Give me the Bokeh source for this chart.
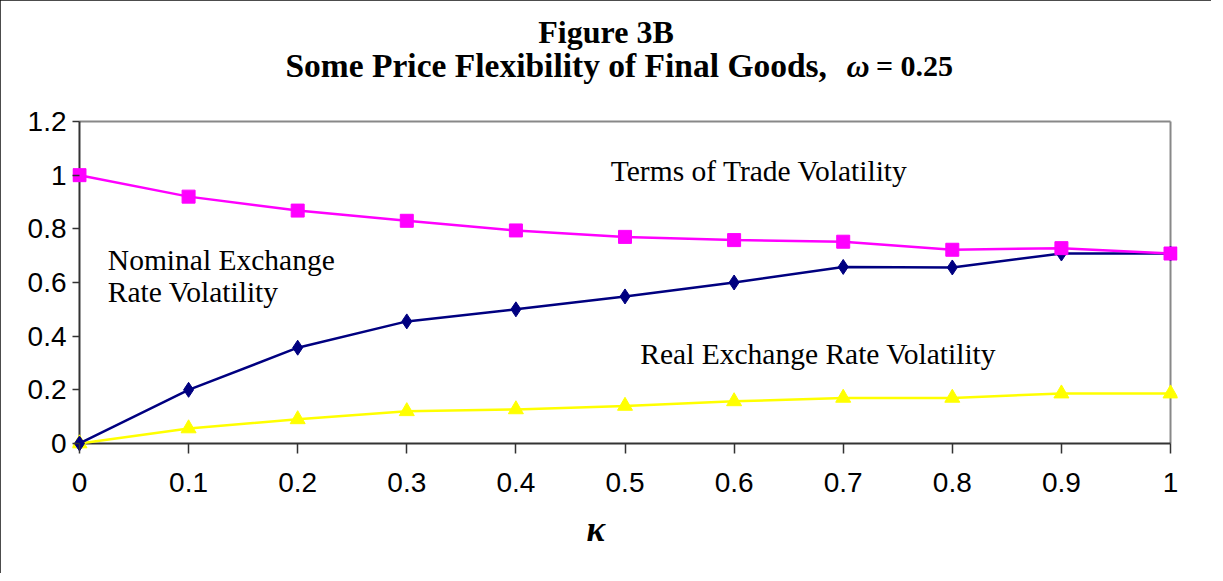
from bokeh.plotting import figure
from bokeh.models import Range1d, LinearAxis, Label, FixedTicker, Title
from bokeh.embed import file_html
from bokeh.resources import INLINE

kappa = [0.0, 0.1, 0.2, 0.3, 0.4, 0.5, 0.6, 0.7, 0.8, 0.9, 1.0]
terms_of_trade = [1.0, 0.92, 0.868, 0.83, 0.794, 0.77, 0.758, 0.752, 0.722, 0.728, 0.708]
nominal_exchange = [0.0, 0.20, 0.357, 0.455, 0.50, 0.548, 0.60, 0.658, 0.656, 0.708, 0.708]
real_exchange = [0.0, 0.056, 0.09, 0.12, 0.127, 0.14, 0.157, 0.17, 0.17, 0.186, 0.186]
x_ticks = [0, 0.1, 0.2, 0.3, 0.4, 0.5, 0.6, 0.7, 0.8, 0.9, 1]
y_ticks = [0, 0.2, 0.4, 0.6, 0.8, 1.0, 1.2]
x_tick_labels = {0: "0", 0.1: "0.1", 0.2: "0.2", 0.3: "0.3", 0.4: "0.4", 0.5: "0.5",
                 0.6: "0.6", 0.7: "0.7", 0.8: "0.8", 0.9: "0.9", 1: "1"}
y_tick_labels = {0: "0", 0.2: "0.2", 0.4: "0.4", 0.6: "0.6", 0.8: "0.8", 1.0: "1", 1.2: "1.2"}

SANS = "Liberation Sans"
SERIF = "Liberation Serif"
PX, PY, PTOP = 0.0064, 0.0373, 0.4435

p = figure(width=1211, height=573, output_backend="svg", toolbar_location=None,
           x_range=Range1d(x_ticks[0] - PX, x_ticks[-1] + PX),
           y_range=Range1d(y_ticks[0] - PY, y_ticks[-1] + PTOP),
           x_axis_type=None, y_axis_type=None,
           min_border_left=72, min_border_right=34, min_border_top=2, min_border_bottom=120)
p.outline_line_color = None
p.grid.visible = False
p.background_fill_color = "white"
p.border_fill_color = "white"
p.styles = {"outline": "2px solid #111111", "outline-offset": "-2px"}

# tick label axes on the frame edge, ticks pointing in to the data origin
xl = LinearAxis(ticker=FixedTicker(ticks=x_ticks))
xl.major_label_overrides = x_tick_labels
xl.axis_line_color = None
xl.major_tick_line_color = "#333333"
xl.major_tick_line_width = 1.5
xl.major_tick_in = 10
xl.major_tick_out = 0
xl.minor_tick_line_color = None
xl.major_label_text_font = SANS
xl.major_label_text_font_size = "28px"
xl.major_label_text_color = "black"
xl.major_label_standoff = 19
p.add_layout(xl, "below")

yl = LinearAxis(ticker=FixedTicker(ticks=y_ticks))
yl.major_label_overrides = y_tick_labels
yl.axis_line_color = None
yl.major_tick_line_color = "#333333"
yl.major_tick_line_width = 1.5
yl.major_tick_in = 7
yl.major_tick_out = 0
yl.minor_tick_line_color = None
yl.major_label_text_font = SANS
yl.major_label_text_font_size = "28px"
yl.major_label_text_color = "black"
yl.major_label_standoff = 6
p.add_layout(yl, "left")

# kappa axis title
p.add_layout(Title(text="\u03ba", text_font=SERIF, text_font_size="35px", text_font_style="bold italic",
                   text_color="black", align="left", offset=514, standoff=27), "below")

# frame lines: gray top/right, dark left/bottom axes
p.segment(x0=[x_ticks[0], x_ticks[-1]], y0=[y_ticks[-1], y_ticks[0]],
          x1=[x_ticks[-1], x_ticks[-1]], y1=[y_ticks[-1], y_ticks[-1]],
          line_color="#888888", line_width=2)
p.segment(x0=[x_ticks[0], x_ticks[0]], y0=[y_ticks[0], y_ticks[0]],
          x1=[x_ticks[-1], x_ticks[0]], y1=[y_ticks[0], y_ticks[-1]],
          line_color="#333333", line_width=2)

# series
p.line(kappa, real_exchange, line_color="#FFFF00", line_width=2.5)
p.scatter(kappa, real_exchange, marker="triangle", size=15, fill_color="#FFFF00", line_color="#FFFF00")

p.line(kappa, nominal_exchange, line_color="#000080", line_width=2.5)
p.scatter(kappa, nominal_exchange, marker="diamond", size=15, fill_color="#000080", line_color="#000080")

p.line(kappa, terms_of_trade, line_color="#FF00FF", line_width=2.5)
p.scatter(kappa, terms_of_trade, marker="square", size=13, fill_color="#FF00FF", line_color="#FF00FF")

# annotations
def lab(x, y, t, **kw):
    d = dict(text_font=SERIF, text_font_size="29.5px", text_color="black",
             text_baseline="middle", text_align="left")
    d.update(kw)
    p.add_layout(Label(x=x, y=y, text=t, **d))

lab(0.487, 1.017, "Terms of Trade Volatility")
lab(0.026, 0.682, "Nominal Exchange")
lab(0.026, 0.563, "Rate Volatility")
lab(0.514, 0.332, "Real Exchange Rate Volatility")

# titles (drawn inside the extended frame, above the plotted area)
lab(0.4826, 1.5317, "Figure 3B", text_align="center", text_font_style="bold", text_font_size="32px")
lab(0.1888, 1.4087, "Some Price Flexibility of Final Goods,", text_font_style="bold", text_font_size="33.5px")
lab(0.7030, 1.4087, "\u03c9", text_font_style="bold italic", text_font_size="32px")
lab(0.7300, 1.4087, "= 0.25", text_font_style="bold", text_font_size="30px")

open("out.html", "w").write(file_html(p, INLINE))
